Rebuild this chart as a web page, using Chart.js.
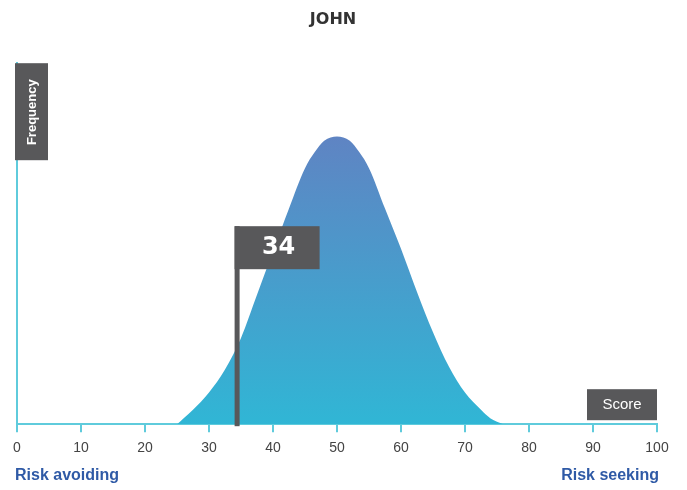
<!DOCTYPE html>
<html>
<head>
<meta charset="utf-8">
<style>
  html, body { margin: 0; padding: 0; background: #fff; }
  #wrap { width: 687px; height: 490px; }
</style>
<script src="https://cdn.jsdelivr.net/npm/chart.js@4/dist/chart.umd.min.js"></script>
</head>
<body>
<div id="wrap"><canvas id="bell"></canvas></div>
<script>
/* ===== Data ===== */
const scores = [25, 26, 27.5, 30, 32.5, 35, 37.5, 40, 42.5, 45, 46.5, 48, 50, 52, 53.5, 55, 57.5, 60, 62.5, 65, 67.5, 70, 72.5, 74, 76];
const freq   = [0, 0.02, 0.05, 0.11, 0.19, 0.30, 0.45, 0.60, 0.75, 0.89, 0.945, 0.985, 1.0, 0.985, 0.945, 0.89, 0.75, 0.61, 0.46, 0.32, 0.20, 0.11, 0.05, 0.02, 0];
const tickValues = [0, 10, 20, 30, 40, 50, 60, 70, 80, 90, 100];
const userName  = 'JOHN';
const userScore = 34;

/* ===== Colours ===== */
const CYAN = '#5fcbdc';
const GREY = '#58585a';
const BLUE = '#2f5aa6';

/* ===== Overlay: labels, boxes, marker ===== */
const overlay = {
  id: 'overlay',
  afterDraw(chart){
    const { ctx, chartArea: a, scales: { x } } = chart;
    ctx.save();

    // Frequency box
    ctx.fillStyle = GREY;
    ctx.fillRect(a.left - 2, a.top, 33, 97);
    ctx.translate(a.left + 15, a.top + 49);
    ctx.rotate(-Math.PI / 2);
    ctx.fillStyle = '#fff';
    ctx.font = 'bold 13px "Liberation Sans", Arial, sans-serif';
    ctx.textAlign = 'center';
    ctx.textBaseline = 'middle';
    ctx.fillText('Frequency', 0, 0);
    ctx.setTransform(chart.currentDevicePixelRatio, 0, 0, chart.currentDevicePixelRatio, 0, 0);

    // Score box
    const right = x.getPixelForValue(100);
    ctx.fillStyle = GREY;
    ctx.fillRect(right - 70, a.bottom - 35, 70, 31);
    ctx.fillStyle = '#fff';
    ctx.font = '15px "Liberation Sans", Arial, sans-serif';
    ctx.textAlign = 'center';
    ctx.textBaseline = 'middle';
    ctx.fillText('Score', right - 35, a.bottom - 19);

    // Score marker
    const px = x.getPixelForValue(userScore) + 1;
    const top = a.bottom - 198;
    ctx.fillStyle = GREY;
    ctx.fillRect(px - 1, top, 5, a.bottom - top + 2);
    ctx.fillRect(px - 1, top, 85, 43);
    ctx.fillStyle = '#fff';
    ctx.font = 'bold 24px "DejaVu Sans", sans-serif';
    ctx.fillText(String(userScore), px + 43, top + 22);

    // Axis end captions
    ctx.fillStyle = BLUE;
    ctx.font = 'bold 16px "Liberation Sans", Arial, sans-serif';
    ctx.textBaseline = 'middle';
    ctx.textAlign = 'left';
    ctx.fillText('Risk avoiding', x.getPixelForValue(0) - 2, 476);
    ctx.textAlign = 'right';
    ctx.fillText('Risk seeking', right + 2, 476);

    ctx.restore();
  }
};

/* ===== Chart ===== */
new Chart(document.getElementById('bell'), {
  type: 'line',
  data: {
    datasets: [{
      data: scores.map((s, i) => ({ x: s, y: freq[i] })),
      fill: 'origin',
      borderWidth: 0,
      pointRadius: 0,
      cubicInterpolationMode: 'monotone',
      backgroundColor(c){
        const a = c.chart.chartArea;
        if (!a) return '#3fa9d0';
        const ys = c.chart.scales.y;
        const g = c.chart.ctx.createLinearGradient(0, ys.getPixelForValue(1), 0, a.bottom);
        g.addColorStop(0, '#5f84c3');
        g.addColorStop(1, '#30b6d5');
        return g;
      }
    }]
  },
  options: {
    responsive: true,
    maintainAspectRatio: false,
    animation: false,
    layout: { padding: { left: 9, right: 30, top: 0, bottom: 25 } },
    plugins: {
      legend: { display: false },
      tooltip: { enabled: false },
      title: {
        display: true,
        text: userName,
        color: '#333',
        font: { family: '"DejaVu Sans", sans-serif', size: 16, weight: 'bold' },
        padding: { top: 10, bottom: 34 }
      }
    },
    scales: {
      x: {
        type: 'linear',
        min: 0, max: 100,
        afterBuildTicks(s){ s.ticks = tickValues.map(v => ({ value: v })); },
        border: { color: CYAN, width: 2 },
        grid: { drawOnChartArea: false, drawTicks: true, tickLength: 8, color: CYAN, lineWidth: 2 },
        ticks: { color: '#444', font: { family: '"Liberation Sans", Arial, sans-serif', size: 14 }, padding: 8, maxRotation: 0 }
      },
      y: {
        min: 0, max: 1.255,
        border: { color: CYAN, width: 2 },
        grid: { display: false },
        ticks: { display: false }
      }
    }
  },
  plugins: [overlay]
});
</script>
</body>
</html>
